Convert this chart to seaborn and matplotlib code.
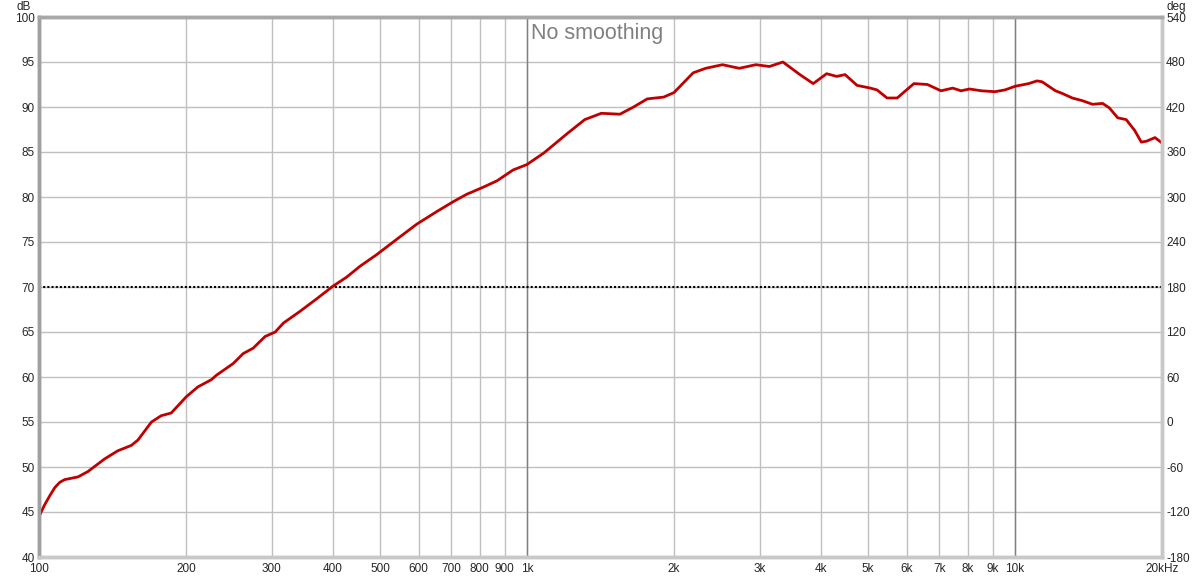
import seaborn as sns
import pandas as pd
import matplotlib.pyplot as plt

# frequency response
freq = [100, 102.7, 105.2, 107.7, 110.3, 112.9, 120.2, 126, 136.3, 145, 154.6, 159.5, 170, 178, 186.6,
        200.3, 211.6, 225.5, 231, 250, 262, 274.6, 290.6, 304.8, 316.9, 342.7, 370.9,
        400.5, 427, 454.6, 492, 549.9, 595, 654, 707, 752, 814, 868, 936, 999, 1083,
        1212, 1313, 1420, 1550, 1653, 1763, 1905, 2000, 2190, 2323, 2515, 2722, 2943,
        3138, 3344, 3623, 3858, 4110, 4310, 4484, 4745, 5053, 5213, 5466, 5733, 6204,
        6613, 7049, 7451, 7750, 8064, 8532, 9093, 9537, 9998, 10660, 11090, 11360,
        12100, 12500, 13100, 13740, 14410, 15110, 15600, 16230, 16890, 17580, 18140,
        18590, 19350, 20000]
spl = [44.5, 45.8, 46.8, 47.7, 48.3, 48.6, 48.9, 49.5, 50.9, 51.8, 52.4, 53.0, 55.0, 55.7, 56.0,
       57.8, 58.9, 59.7, 60.2, 61.5, 62.6, 63.2, 64.5, 65.0, 66.0, 67.3, 68.7,
       70.1, 71.1, 72.3, 73.6, 75.6, 77.0, 78.4, 79.5, 80.3, 81.1, 81.8, 83.0, 83.6, 84.9,
       87.1, 88.6, 89.3, 89.2, 90.0, 90.9, 91.1, 91.6, 93.8, 94.3, 94.7, 94.3, 94.7,
       94.5, 95.0, 93.6, 92.6, 93.7, 93.4, 93.6, 92.4, 92.1, 91.9, 91.0, 91.0, 92.6,
       92.5, 91.8, 92.1, 91.8, 92.0, 91.8, 91.7, 91.9, 92.3, 92.6, 92.9, 92.8,
       91.8, 91.5, 91.0, 90.7, 90.3, 90.4, 89.9, 88.8, 88.6, 87.4, 86.1,
       86.2, 86.6, 86.0]

xticks = [100, 200, 300, 400, 500, 600, 700, 800, 900, 1000, 2000, 3000, 4000, 5000,
          6000, 7000, 8000, 9000, 10000, 20000]
xlabels = ['100', '200', '300', '400', '500', '600', '700', '800', '900', '1k', '2k', '3k',
           '4k', '5k', '6k', '7k', '8k', '9k', '10k', '20kHz']
db_ticks = list(range(40, 101, 5))
deg_ticks = list(range(-180, 541, 60))

df = pd.DataFrame({'freq': freq, 'spl': spl})

sns.set_style('white')
plt.rcParams['font.family'] = ['Liberation Sans', 'DejaVu Sans']
plt.rcParams['axes.unicode_minus'] = False

fig = plt.figure(figsize=(12, 5.78), dpi=100)
ax = fig.add_axes([39 / 1200, 21 / 578, 1123 / 1200, 540 / 578])

sns.lineplot(data=df, x='freq', y='spl', ax=ax, color='#c00000', linewidth=2, zorder=5)

ax.set_xscale('log')
ax.set_xlim(100, 20000)
ax.set_ylim(40, 100)
ax.set_xticks(xticks)
ax.set_xticklabels(xlabels)
ax.minorticks_off()
ax.set_yticks(db_ticks)
ax.set_xlabel('')
ax.set_ylabel('')
ax.grid(True, color='#c0c0c0', linewidth=1)
for f in [1000, 10000]:
    ax.axvline(f, color='#808080', linewidth=1, zorder=2)
ax.axhline(70, color='black', linewidth=1.5, linestyle=(0, (1, 1)), zorder=4)
ax.tick_params(axis='y', length=0, labelsize=8.5, pad=3)
ax.tick_params(axis='x', length=0, labelsize=8.5, pad=4)

# right axis in degrees
ax2 = ax.twinx()
ax2.set_ylim(-180, 540)
ax2.set_yticks(deg_ticks)
ax2.tick_params(length=0, labelsize=8.5, pad=3)

for a in [ax, ax2]:
    a.spines['left'].set_color('#a0a0a0')
    a.spines['top'].set_color('#a8a8a8')
    a.spines['right'].set_color('#c8c8c8')
    a.spines['bottom'].set_color('#c8c8c8')
    for s in a.spines.values():
        s.set_linewidth(2.5)

fig.text(24 / 1200, 1 - 7 / 578, 'dB', fontsize=8.5, ha='center', va='center')
fig.text(1176 / 1200, 1 - 7 / 578, 'deg', fontsize=8.5, ha='center', va='center')
ax.text(1018, 98.2, 'No smoothing', fontsize=15.5, color='#808080', ha='left', va='center')

fig.savefig('out.png', dpi=100)
